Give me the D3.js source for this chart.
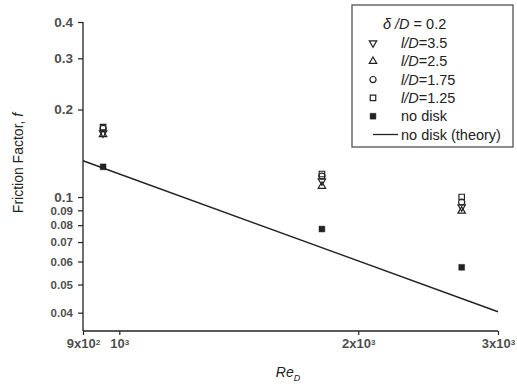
<!DOCTYPE html>
<html><head><meta charset="utf-8">
<script src="https://cdn.jsdelivr.net/npm/d3@7"></script>
<style>body{margin:0;background:#fff}svg{display:block}text{font-family:"Liberation Sans",Arial,sans-serif;fill:#222}</style>
</head><body><svg id="c" width="517" height="387"></svg>
<script>
// ---- data ----
const reD       = [954, 1800, 2700];
const fLD350    = [0.166, 0.1135, 0.0924];   // l/D = 3.5  (down triangle)
const fLD250    = [0.164, 0.109, 0.0895];    // l/D = 2.5  (up triangle)
const fLD175    = [0.172, 0.118, 0.096];     // l/D = 1.75 (circle)
const fLD125    = [0.174, 0.120, 0.100];     // l/D = 1.25 (square)
const fNoDisk   = [0.127, 0.0776, 0.0573];   // no disk (filled square)
const theoryRe  = [900, 3000];
const theoryF   = [0.1333, 0.0403];          // no disk (theory)
const xTicks    = [900, 1000, 2000, 3000];
const xTickBase = ["9x10", "10", "2x10", "3x10"];
const xTickExp  = ["2", "3", "3", "3"];
const yTicks    = [0.04, 0.05, 0.06, 0.07, 0.08, 0.09, 0.1, 0.2, 0.3, 0.4];
const yTickLabels = ["0.04","0.05","0.06","0.07","0.08","0.09","0.1","0.2","0.3","0.4"];
const legendLabels = ["l/D=3.5", "l/D=2.5", "l/D=1.75", "l/D=1.25", "no disk", "no disk (theory)"];

const svg = d3.select("#c");
const x = d3.scaleLog().domain([900, 3000]).range([83, 498]);
const y = d3.scaleLog().domain([0.0346, 0.4]).range([331, 22]);
const ink = "#222";

// y axis
const yAxis = svg.append("g").attr("transform", "translate(83,0)")
  .call(d3.axisLeft(y).tickValues(yTicks).tickFormat((d,i)=>yTickLabels[i]).tickSize(5).tickSizeOuter(0).tickPadding(5));
yAxis.select(".domain").attr("d", `M0,${y(0.4)}V331`).attr("stroke", ink).attr("stroke-width", 1.3);
yAxis.selectAll(".tick line").attr("stroke", ink).attr("stroke-width", 1.2);
yAxis.selectAll("text").attr("font-size", d => d >= 0.1 ? 13.5 : 11.5).attr("fill", ink)
  .style("font-weight", "bold").attr("fill-opacity", 0.82);

// x axis
const xAxis = svg.append("g").attr("transform", "translate(0,331)")
  .call(d3.axisBottom(x).tickValues(xTicks).tickFormat(()=>"").tickSize(4).tickSizeOuter(0).tickPadding(3));
xAxis.select(".domain").attr("d", "M83,0H498").attr("stroke", ink).attr("stroke-width", 1.3);
xAxis.selectAll(".tick line").attr("stroke", ink).attr("stroke-width", 1.2);
xAxis.selectAll(".tick text").each(function(d, i) {
  const t = d3.select(this).text(null).attr("font-size", 13).style("font-weight", "bold").attr("fill-opacity", 0.82).attr("dy", "0.8em");
  t.append("tspan").text(xTickBase[i]);
  t.append("tspan").attr("dy", "-0.45em").attr("font-size", "0.62em").text(xTickExp[i]);
});

// axis titles
const xl = svg.append("text").attr("x", 288).attr("y", 377).attr("text-anchor", "middle").attr("font-size", 14).attr("font-style", "italic");
xl.append("tspan").text("Re");
xl.append("tspan").attr("dy", 4).attr("font-size", 9).text("D");

const yl = svg.append("text").attr("transform", "translate(23,163) rotate(-90)").attr("text-anchor", "middle").attr("font-size", 14);
yl.append("tspan").text("Friction Factor, ");
yl.append("tspan").attr("font-style", "italic").text("f");

// theory line
const line = d3.line().x(d => x(d[0])).y(d => y(d[1]));
svg.append("path").datum(d3.zip(theoryRe, theoryF)).attr("d", line)
  .attr("fill", "none").attr("stroke", ink).attr("stroke-width", 1.4);

// symbols
const sym = {
  down: d3.symbol().type(d3.symbolTriangle).size(24),
  up: d3.symbol().type(d3.symbolTriangle).size(24),
  circle: d3.symbol().type(d3.symbolCircle).size(30),
  square: d3.symbol().type(d3.symbolSquare).size(30),
  filled: d3.symbol().type(d3.symbolSquare).size(34)
};
const series = [
  {vals: fLD350, s: "down"},
  {vals: fLD250, s: "up"},
  {vals: fLD175, s: "circle"},
  {vals: fLD125, s: "square"},
  {vals: fNoDisk, s: "filled"}
];
function drawSym(g, s) {
  g.append("path").attr("d", sym[s]())
    .attr("transform", s === "down" ? "rotate(180)" : null)
    .attr("fill", s === "filled" ? ink : "none")
    .attr("stroke", ink).attr("stroke-width", s === "filled" ? 0.5 : 1.2);
}
series.forEach(se => {
  se.vals.forEach((v, i) => {
    const g = svg.append("g").attr("transform", `translate(${x(reD[i])},${y(v)})`);
    drawSym(g, se.s);
  });
});

// legend
svg.append("rect").attr("x", 352).attr("y", 5).attr("width", 161).attr("height", 142)
  .attr("fill", "#fff").attr("stroke", "#444").attr("stroke-width", 1.2);
const lt = svg.append("text").attr("x", 383).attr("y", 29).attr("font-size", 14.5);
lt.append("tspan").attr("font-style", "italic").text("δ /D");
lt.append("tspan").text(" = 0.2");
const rowY = [43, 61.3, 79.6, 97.9, 116.2, 134.5];
const legSyms = ["down", "up", "circle", "square", "filled", "line"];
legendLabels.forEach((lab, i) => {
  const yy = rowY[i];
  if (legSyms[i] === "line") {
    svg.append("line").attr("x1", 373).attr("x2", 398).attr("y1", yy).attr("y2", yy).attr("stroke", ink).attr("stroke-width", 1.3);
  } else {
    drawSym(svg.append("g").attr("transform", `translate(373,${yy})`), legSyms[i]);
  }
  const t = svg.append("text").attr("x", 401).attr("y", yy + 5).attr("font-size", 14.5);
  if (lab.startsWith("l/D")) {
    t.append("tspan").attr("font-style", "italic").text("l/D");
    t.append("tspan").text(lab.slice(3));
  } else {
    t.text(lab);
  }
});
</script></body></html>
